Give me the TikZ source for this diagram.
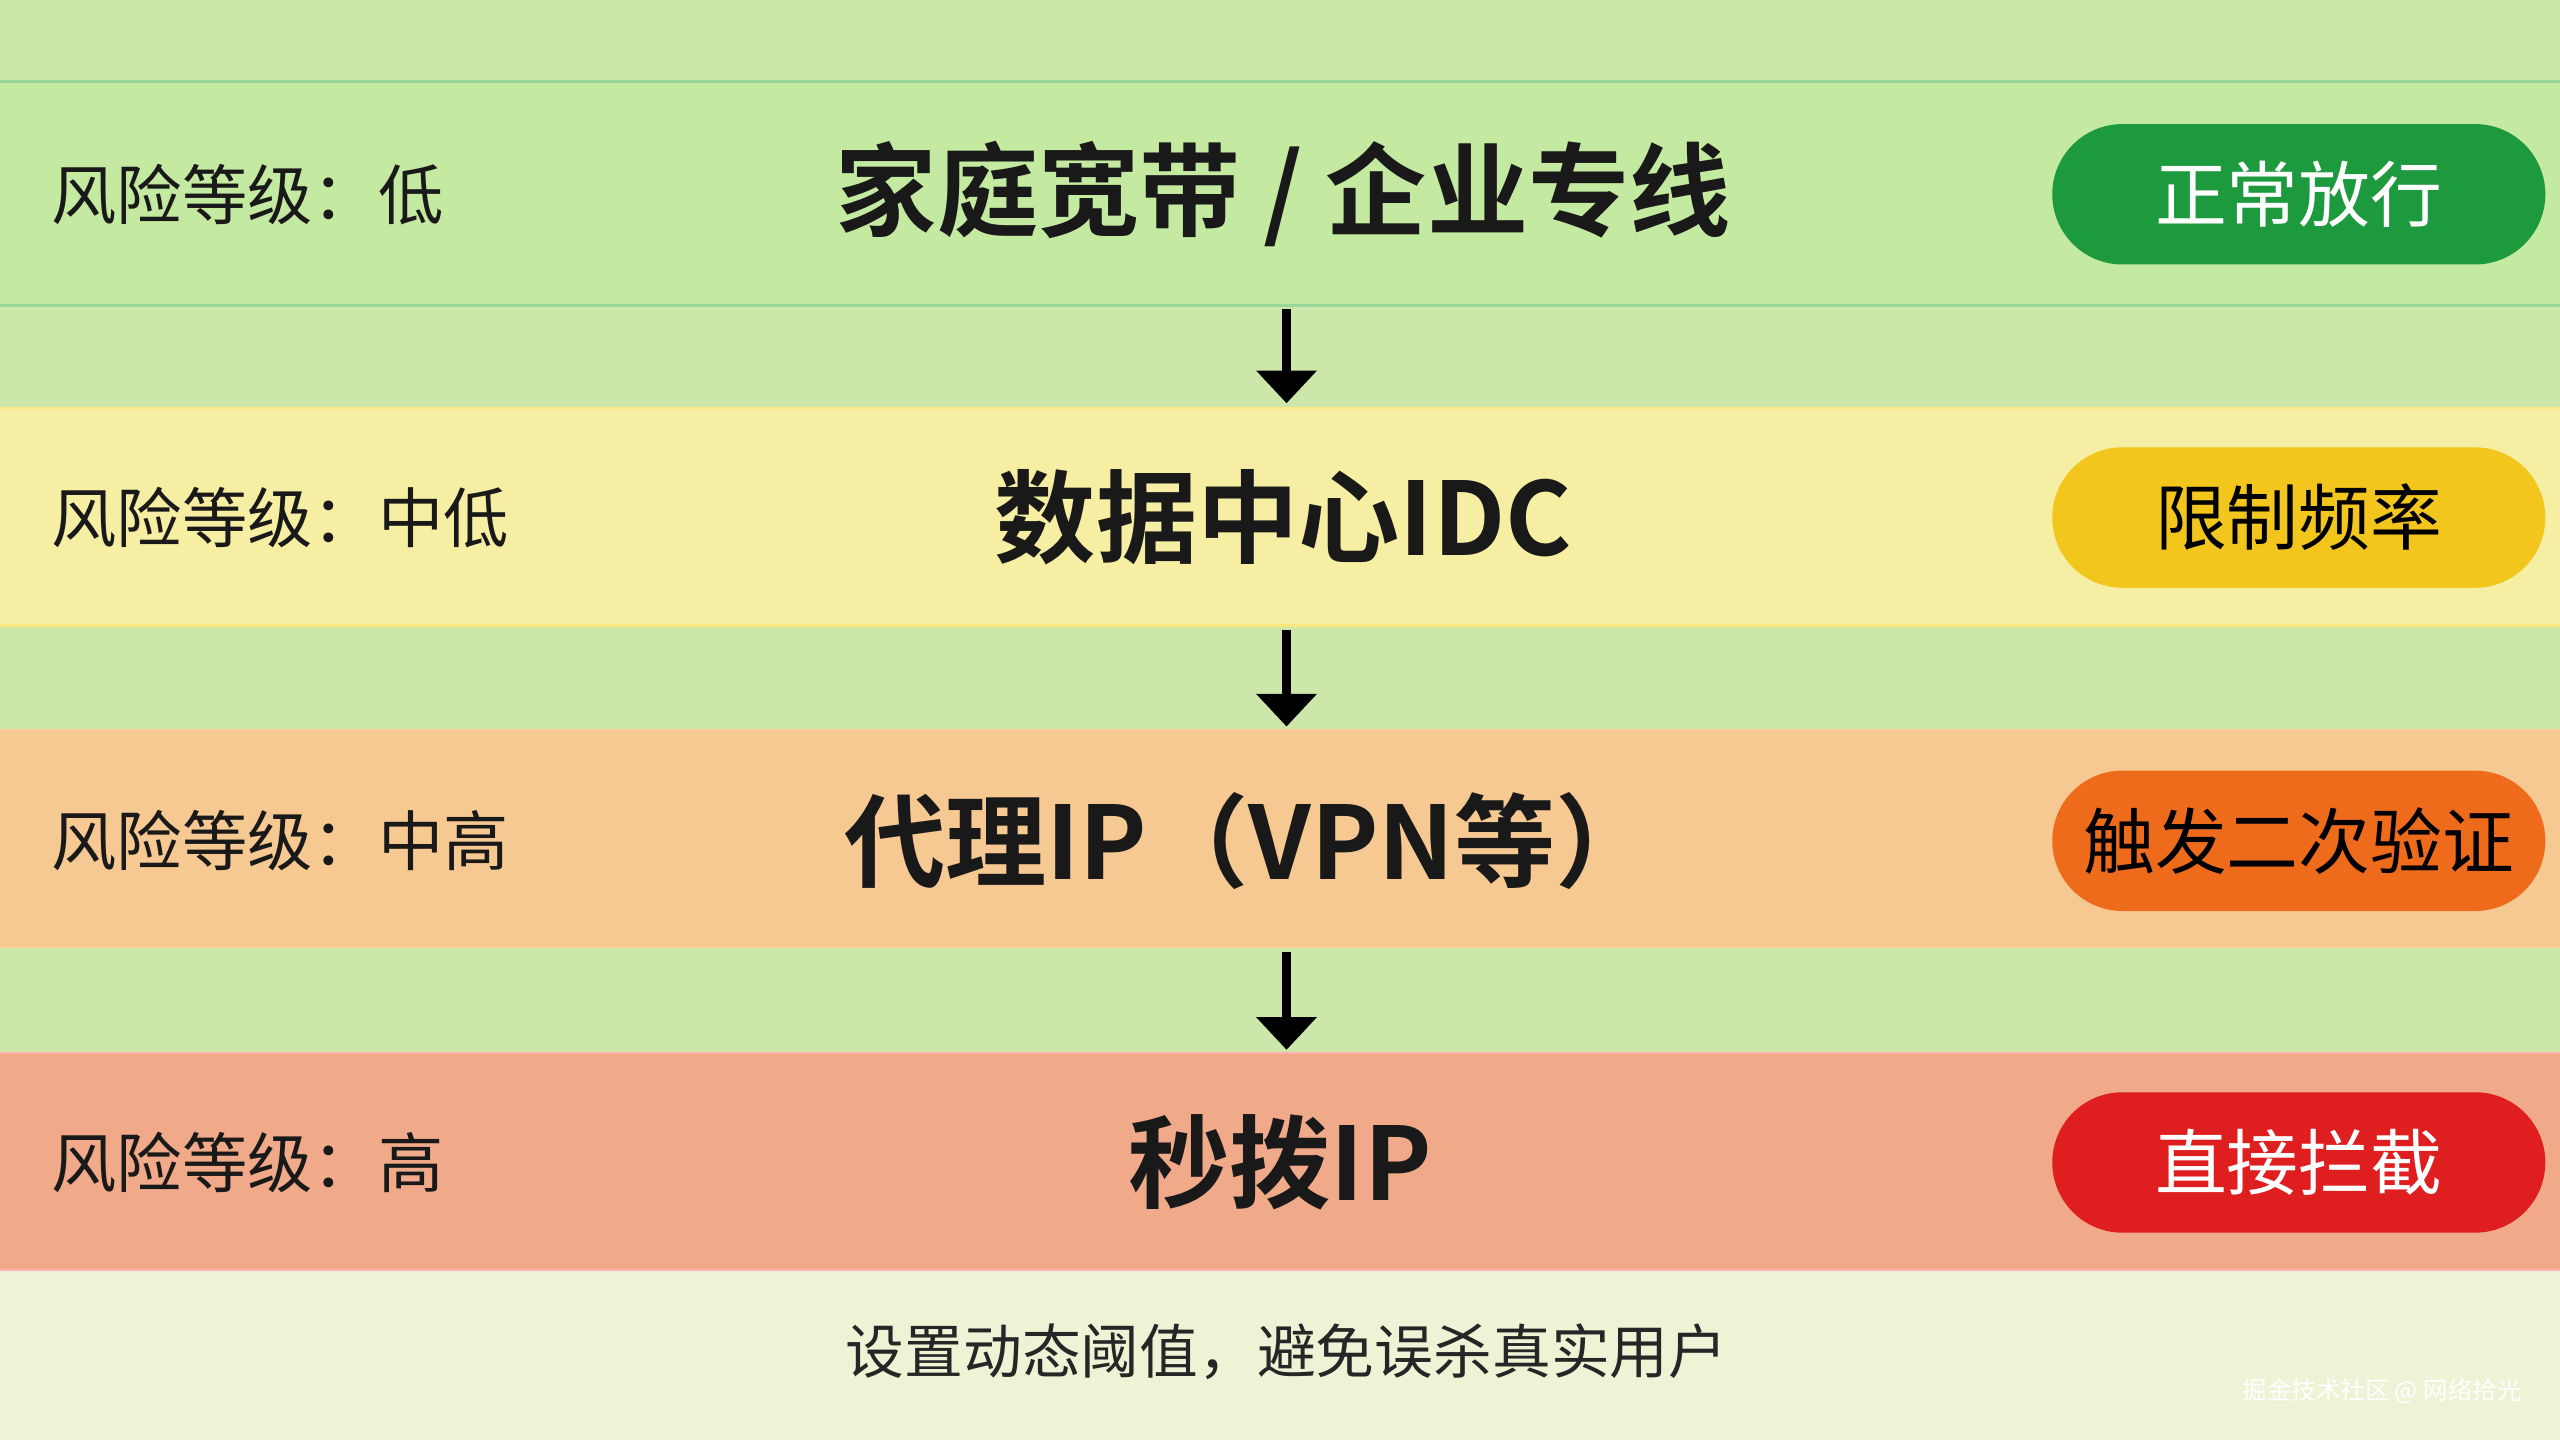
\documentclass[tikz,border=0pt]{standalone}
\usepackage{fontspec}
\setmainfont{Noto Sans CJK SC}[BoldFont={Noto Sans CJK SC Bold}]
\begin{document}
\begin{tikzpicture}[x=1pt,y=-1pt,
  lvl/.style={anchor=west,font=\fontsize{40}{44}\selectfont,text=black!90},
  ttl/.style={font=\fontsize{62}{66}\selectfont\bfseries,text=black!90},
  pill/.style={rounded corners=43pt,minimum width=302pt,minimum height=86pt,font=\fontsize{44}{48}\selectfont,inner sep=0pt},
  arr/.style={line width=6pt,-{Triangle[length=20pt,width=36pt]}}]
\usetikzlibrary{arrows.meta}
\definecolor{bg}{HTML}{CCE7A9}
\definecolor{b1}{HTML}{C4E9A0}
\definecolor{b2}{HTML}{F6EEA2}
\definecolor{b3}{HTML}{F6C892}
\definecolor{b4}{HTML}{F0AA8A}
\definecolor{bot}{HTML}{EEF3D6}
\definecolor{p1}{HTML}{1E9A3E}
\definecolor{p2}{HTML}{F2C61C}
\definecolor{p3}{HTML}{EE6B1C}
\definecolor{p4}{HTML}{DF1E20}
\fill[bg] (0,0) rectangle (1568,882);
\useasboundingbox (0,0) rectangle (1568,882);
\fill[bot] (0,778) rectangle (1568,882);
\fill[b1] (0,50) rectangle (1568,187);
\draw[green!60!black!40,line width=1.5pt] (0,50) -- (1568,50) (0,187) -- (1568,187);
\fill[b2] (0,250) rectangle (1568,383);
\draw[yellow!70!orange!50,line width=1.5pt] (0,250) -- (1568,250) (0,383) -- (1568,383);
\fill[b3] (0,447) rectangle (1568,580);
\draw[orange!40,line width=1.5pt] (0,447) -- (1568,447) (0,580) -- (1568,580);
\fill[b4] (0,645) rectangle (1568,778);
\draw[red!30,line width=1.5pt] (0,645) -- (1568,645) (0,778) -- (1568,778);

\node[lvl] (l1) at (28,119) {风险等级：低};
\node[lvl] (l2) at (28,317) {风险等级：中低};
\node[lvl] (l3) at (28,515) {风险等级：中高};
\node[lvl] (l4) at (28,712) {风险等级：高};

\node[ttl] (t1) at (786,119) {家庭宽带 / 企业专线};
\node[ttl] (t2) at (786,317) {数据中心IDC};
\node[ttl] (t3) at (766,515) {代理IP（VPN等）};
\node[ttl] (t4) at (784,712) {秒拨IP};

\node[pill,fill=p1,text=white] (r1) at (1408,119) {正常放行};
\node[pill,fill=p2,text=black] (r2) at (1408,317) {限制频率};
\node[pill,fill=p3,text=black] (r3) at (1408,515) {触发二次验证};
\node[pill,fill=p4,text=white] (r4) at (1408,712) {直接拦截};

\coordinate (a1) at (788,189); \coordinate (b1e) at (788,247);
\coordinate (a2) at (788,386); \coordinate (b2e) at (788,445);
\coordinate (a3) at (788,583); \coordinate (b3e) at (788,643);
\draw[arr] (a1) -- (b1e);
\draw[arr] (a2) -- (b2e);
\draw[arr] (a3) -- (b3e);

\node[font=\fontsize{36}{40}\selectfont,text=black!85] (foot) at (788,828) {设置动态阈值，避免误杀真实用户};
\node[font=\fontsize{15}{18}\selectfont,text=white,anchor=east] (wm) at (1548,852) {掘金技术社区 @ 网络拾光};
\end{tikzpicture}
\end{document}
